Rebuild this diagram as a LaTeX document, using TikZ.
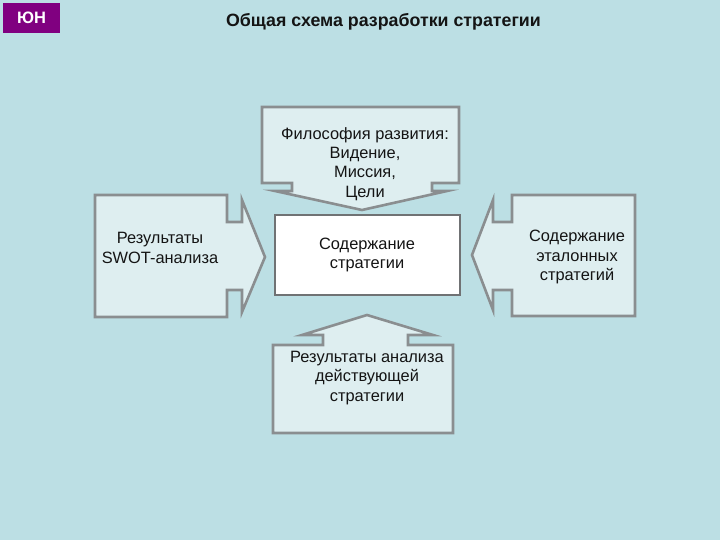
\documentclass[tikz,border=0pt]{standalone}
\usepackage{fontspec}
\setmainfont{Liberation Sans}
\definecolor{bg}{RGB}{188,223,228}
\definecolor{boxfill}{RGB}{222,238,240}
\definecolor{bordergray}{RGB}{138,142,144}
\definecolor{darkborder}{RGB}{112,114,116}
\definecolor{logopurple}{RGB}{128,0,128}
\definecolor{txt}{RGB}{20,20,20}
\tikzset{
  callout/.style={fill=boxfill, draw=bordergray, line width=2.6pt, line join=miter},
  centerbox/.style={fill=white, draw=darkborder, line width=2.6pt},
  label/.style={align=center, text=txt, inner sep=0pt, font=\fontsize{16.4}{19.3}\selectfont},
}
\begin{document}
\begin{tikzpicture}[x=1pt,y=-1pt]
\fill[bg] (0,0) rectangle (720,540);
\useasboundingbox (0,0) rectangle (720,540);
% logo
\fill[logopurple] (3,3) rectangle (60,33);
\node[text=white, font=\fontsize{16.5}{18}\selectfont\bfseries, inner sep=0pt] (logo) at (31.5,18) {ЮН};
% title
\node[text=txt, font=\fontsize{17.8}{20}\selectfont\bfseries, inner sep=0pt] (title) at (383.5,22) {Общая схема разработки стратегии};
% top callout (down arrow)
\draw[callout] (262,107) -- (459,107) -- (459,183) -- (432,183) -- (432,191) -- (447,191) -- (362,210) -- (275,191) -- (292,191) -- (292,183) -- (262,183) -- cycle;
\node[label] (top) at (365,164) {Философия развития:\\Видение,\\Миссия,\\Цели};
% left callout (right arrow)
\draw[callout] (95,195) -- (227,195) -- (227,222) -- (242,222) -- (242,200) -- (265,257) -- (242,312) -- (242,290) -- (227,290) -- (227,317) -- (95,317) -- cycle;
\node[label] (left) at (160,248) {Результаты\\SWOT-анализа};
% right callout (left arrow)
\draw[callout] (635,195) -- (512,195) -- (512,222) -- (493,222) -- (493,200) -- (472,255) -- (493,310) -- (493,290) -- (512,290) -- (512,316) -- (635,316) -- cycle;
\node[label] (right) at (577,257) {Содержание\\эталонных\\стратегий};
% bottom callout (up arrow)
\draw[callout] (273,345) -- (323,345) -- (323,335) -- (302,335) -- (367,315) -- (433,335) -- (408,335) -- (408,345) -- (453,345) -- (453,433) -- (273,433) -- cycle;
\node[label] (bottom) at (367,378) {Результаты анализа\\действующей\\стратегии};
% center box
\draw[centerbox] (275,215) rectangle (460,295);
\node[label] (center) at (367,255) {Содержание\\стратегии};
\end{tikzpicture}
\end{document}
